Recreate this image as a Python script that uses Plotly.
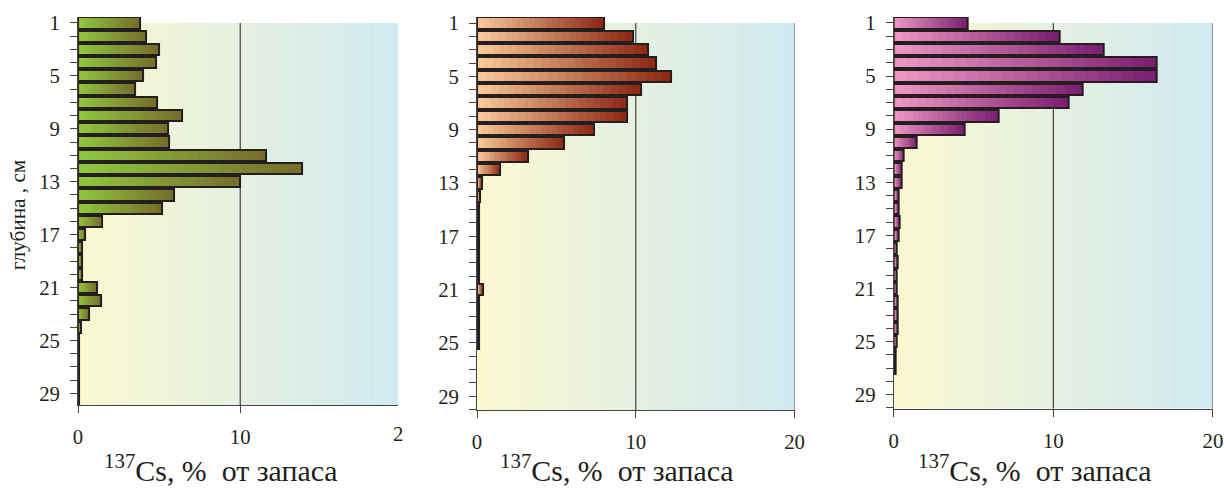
import numpy as np
import plotly.graph_objects as go

# ---------------- data ----------------
depth_1 = list(range(1, 31))
cs_1 = [3.8, 4.2, 5.0, 4.8, 4.0, 3.5, 4.85, 6.4, 5.55, 5.6,
        11.6, 13.8, 10.0, 5.9, 5.2, 1.45, 0.45, 0.25, 0.22, 0.25,
        1.15, 1.4, 0.65, 0.2, 0.08, 0.08, 0.08, 0.08, 0.08, 0.08]

depth_2 = list(range(1, 26))
cs_2 = [8.0, 9.8, 10.8, 11.3, 12.25, 10.3, 9.45, 9.45, 7.4, 5.45,
        3.2, 1.47, 0.3, 0.2, 0.15, 0.15, 0.15, 0.15, 0.15, 0.15,
        0.35, 0.15, 0.15, 0.15, 0.15]

depth_3 = list(range(1, 28))
cs_3 = [4.65, 10.4, 13.15, 16.45, 16.45, 11.85, 10.95, 6.6, 4.45, 1.44,
        0.65, 0.48, 0.48, 0.31, 0.31, 0.35, 0.3, 0.2, 0.22, 0.2,
        0.2, 0.25, 0.28, 0.25, 0.2, 0.15, 0.15]

x_ticks = [0, 10, 20]
y_ticks = [1, 5, 9, 13, 17, 21, 25, 29]
y_title = "глубина , см"
x_title = "<sup>137</sup>Cs, %&nbsp;&nbsp;от запаса"

# ---------------- style ----------------
W, H = 1224, 489
FONT = "Liberation Serif"
INK = "#231F20"

# the photographed page comes out slightly scaled/shifted; compensate
SC, OFF = 0.987, 5.0


def fx(px):
    return ((px - OFF) / SC) / W


def fy(py):
    return 1 - ((py - OFF) / SC) / H


def fs(size):
    return size / SC


panels = [
    dict(depth=depth_1, vals=cs_1, light=(145, 200, 62), dark=(118, 108, 44),
         px=(78, 398), xr=[0, 19.75], py=(16, 404), yr=[29.9, 0.55], title_x=221),
    dict(depth=depth_2, vals=cs_2, light=(250, 203, 155), dark=(140, 38, 18),
         px=(476.7, 794), xr=[0, 20], py=(16, 409), yr=[30.05, 0.55], title_x=617),
    dict(depth=depth_3, vals=cs_3, light=(242, 152, 196), dark=(122, 28, 112),
         px=(893, 1212), xr=[0, 20], py=(16, 407.3), yr=[30.05, 0.55], title_x=1034),
]

bg_stops = [(0.0, (251, 248, 208)), (0.5, (229, 240, 225)), (1.0, (206, 233, 240))]


def lerp(c1, c2, t):
    return tuple(int(round(a + (b - a) * t)) for a, b in zip(c1, c2))


def bg_color(t):
    for (t0, c0), (t1, c1) in zip(bg_stops[:-1], bg_stops[1:]):
        if t <= t1:
            return lerp(c0, c1, (t - t0) / (t1 - t0))
    return bg_stops[-1][1]


fig = go.Figure()
shapes = []
annotations = []
NSTEP = 22
NSTRIP = 60

for i, p in enumerate(panels, start=1):
    xa = "x" if i == 1 else f"x{i}"
    ya = "y" if i == 1 else f"y{i}"
    vals = np.array(p["vals"], dtype=float)

    # gradient fill: layered bars, longest (darkest) first
    for k in range(NSTEP, 0, -1):
        t = (k - 0.5) / NSTEP
        c = lerp(p["light"], p["dark"], t)
        fig.add_trace(go.Bar(
            x=vals * k / NSTEP, y=p["depth"], orientation="h", width=0.85,
            marker=dict(color=f"rgb{c}", line=dict(width=0)),
            xaxis=xa, yaxis=ya, hoverinfo="skip", showlegend=False))
    # outline
    fig.add_trace(go.Bar(
        x=vals, y=p["depth"], orientation="h", width=0.85,
        marker=dict(color="rgba(0,0,0,0)", line=dict(color=INK, width=2)),
        xaxis=xa, yaxis=ya, showlegend=False))

    # background gradient strips (plot area from depth 1 downward)
    for s in range(NSTRIP):
        x0 = 20 * s / NSTRIP
        x1 = 20 * (s + 1) / NSTRIP + 0.02
        c = bg_color((s + 0.5) / NSTRIP)
        shapes.append(dict(type="rect", xref=xa, yref=ya, x0=x0, x1=x1,
                           y0=1, y1=31, fillcolor=f"rgb{c}",
                           line=dict(width=0), layer="below"))
    # vertical grid lines at 10 and 20
    for gx, gc in [(10, INK), (20, "#4a4a4a")]:
        shapes.append(dict(type="line", xref=xa, yref=ya, x0=gx, x1=gx,
                           y0=1, y1=31, line=dict(color=gc, width=1),
                           layer="below"))

    dom_x = [fx(p["px"][0]), min(1.0, fx(p["px"][1]))]
    dom_y = [fy(p["py"][1]), fy(p["py"][0])]
    fig.layout[f"xaxis{'' if i == 1 else i}"] = dict(
        domain=dom_x, range=p["xr"], anchor=ya, tickvals=x_ticks,
        ticks="outside", ticklen=7, tickwidth=1, tickcolor="#444",
        showline=True, linecolor="#444", linewidth=1,
        showgrid=False, zeroline=False, ticklabelstandoff=6,
        tickfont=dict(family=FONT, size=fs(20.5), color=INK))
    fig.layout[f"yaxis{'' if i == 1 else i}"] = dict(
        domain=dom_y, range=p["yr"], anchor=xa, tickvals=y_ticks,
        ticks="outside", ticklen=7, tickwidth=1, tickcolor="#444",
        minor=dict(tickvals=list(range(1, 31)), ticks="outside", ticklen=7,
                   tickwidth=1, tickcolor="#444"),
        showline=True, linecolor="#444", linewidth=1,
        showgrid=False, zeroline=False, ticklabelstandoff=6,
        tickfont=dict(family=FONT, size=fs(20.5), color=INK))

    annotations.append(dict(
        text=x_title, xref="paper", yref="paper", x=fx(p["title_x"]),
        y=fy(467), xanchor="center", yanchor="middle", showarrow=False,
        font=dict(family=FONT, size=fs(29.5), color=INK)))

annotations.append(dict(
    text=y_title, xref="paper", yref="paper", x=fx(18), y=fy(214),
    xanchor="center", yanchor="middle", textangle=-90, showarrow=False,
    font=dict(family=FONT, size=fs(21), color=INK)))
# clipped "20" tick label of the first panel
annotations.append(dict(
    text="2", xref="paper", yref="paper", x=fx(391), y=fy(432),
    xanchor="left", yanchor="middle", showarrow=False,
    font=dict(family=FONT, size=fs(20.5), color=INK)))

fig.update_layout(
    width=W, height=H, margin=dict(l=0, r=0, t=0, b=0),
    paper_bgcolor="white", plot_bgcolor="rgba(0,0,0,0)",
    font=dict(family=FONT, color=INK),
    barmode="overlay", bargap=0, shapes=shapes, annotations=annotations,
    showlegend=False)

fig.write_html(
    "out.html",
    config={"displayModeBar": False},
    post_script="document.body.style.margin='0';"
                "document.body.style.overflow='hidden';"
                "document.documentElement.style.overflow='hidden';")
